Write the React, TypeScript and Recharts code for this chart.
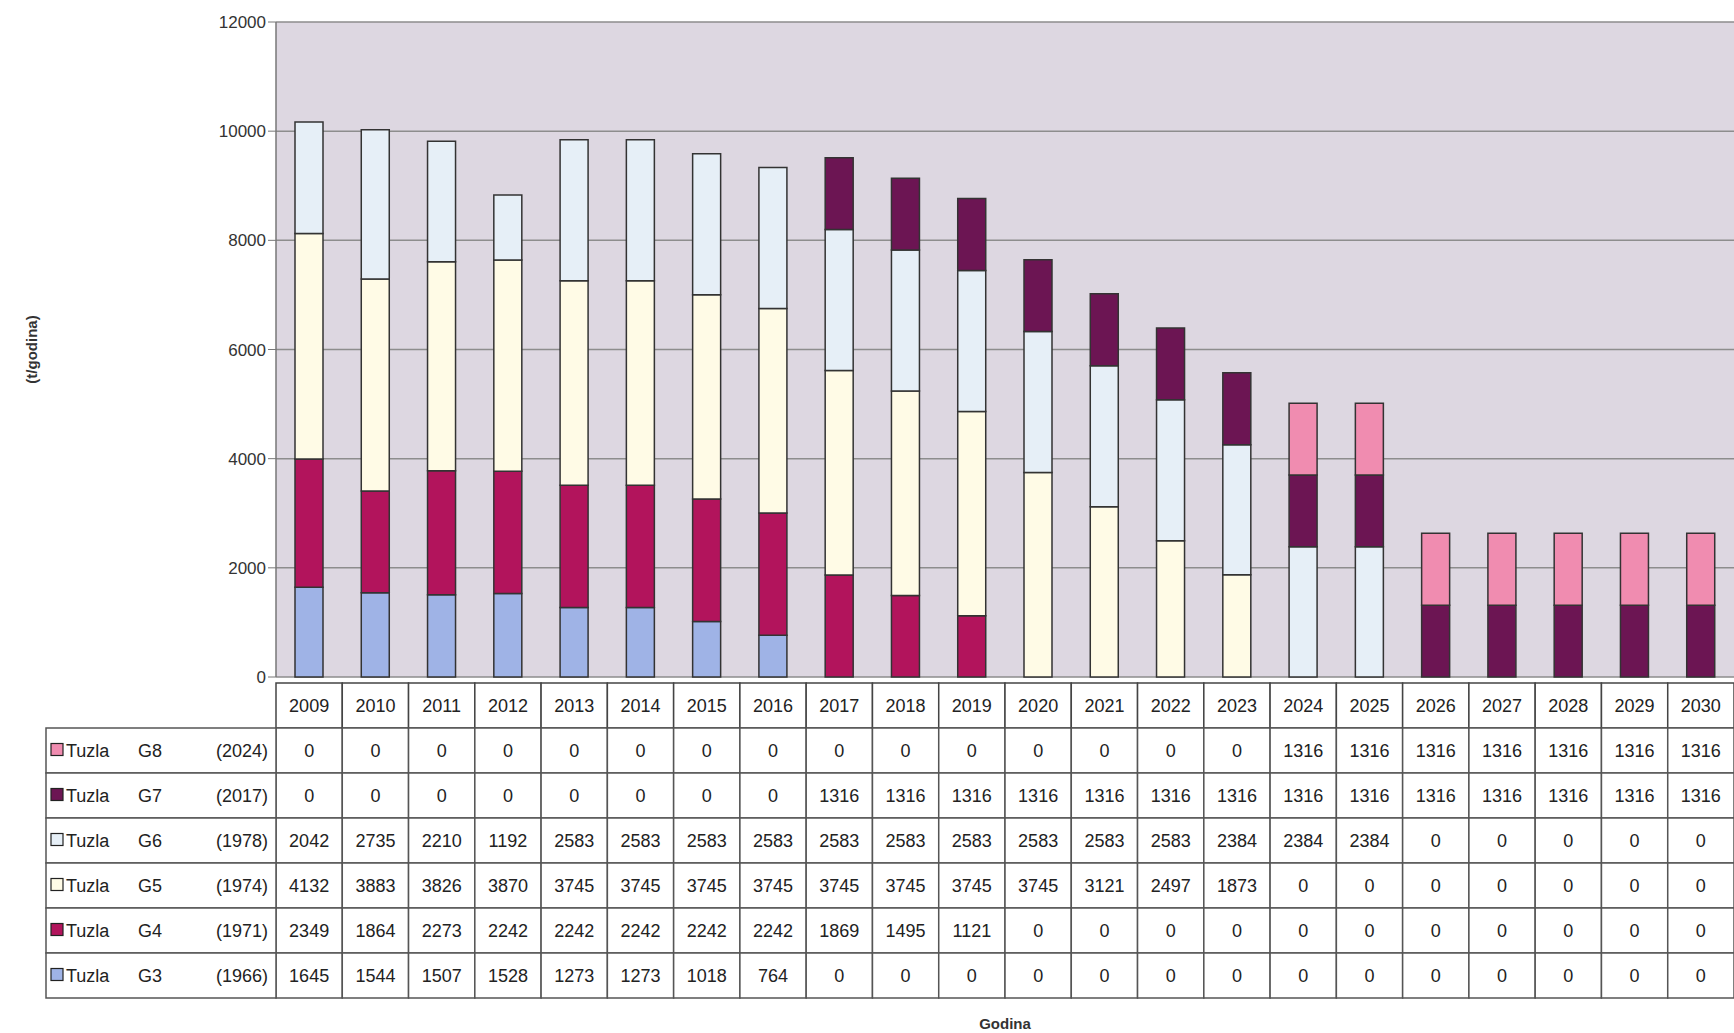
import React from 'react';
import { BarChart, Bar, XAxis, YAxis, CartesianGrid } from 'recharts';

const years = [
  '2009', '2010', '2011', '2012', '2013', '2014', '2015', '2016', '2017', '2018', '2019',
  '2020', '2021', '2022', '2023', '2024', '2025', '2026', '2027', '2028', '2029', '2030',
];

const g8 = [0, 0, 0, 0, 0, 0, 0, 0, 0, 0, 0, 0, 0, 0, 0, 1316, 1316, 1316, 1316, 1316, 1316, 1316];
const g7 = [0, 0, 0, 0, 0, 0, 0, 0, 1316, 1316, 1316, 1316, 1316, 1316, 1316, 1316, 1316, 1316, 1316, 1316, 1316, 1316];
const g6 = [2042, 2735, 2210, 1192, 2583, 2583, 2583, 2583, 2583, 2583, 2583, 2583, 2583, 2583, 2384, 2384, 2384, 0, 0, 0, 0, 0];
const g5 = [4132, 3883, 3826, 3870, 3745, 3745, 3745, 3745, 3745, 3745, 3745, 3745, 3121, 2497, 1873, 0, 0, 0, 0, 0, 0, 0];
const g4 = [2349, 1864, 2273, 2242, 2242, 2242, 2242, 2242, 1869, 1495, 1121, 0, 0, 0, 0, 0, 0, 0, 0, 0, 0, 0];
const g3 = [1645, 1544, 1507, 1528, 1273, 1273, 1018, 764, 0, 0, 0, 0, 0, 0, 0, 0, 0, 0, 0, 0, 0, 0];

const yTicks = [0, 2000, 4000, 6000, 8000, 10000, 12000];

// table rows, top to bottom as in the original
const rows = [
  { key: 'g8', unit: 'G8', since: '(2024)', values: g8, color: '#f08cb0' },
  { key: 'g7', unit: 'G7', since: '(2017)', values: g7, color: '#6c1553' },
  { key: 'g6', unit: 'G6', since: '(1978)', values: g6, color: '#e6eff7' },
  { key: 'g5', unit: 'G5', since: '(1974)', values: g5, color: '#fffbe6' },
  { key: 'g4', unit: 'G4', since: '(1971)', values: g4, color: '#b2145c' },
  { key: 'g3', unit: 'G3', since: '(1966)', values: g3, color: '#9fb3e6' },
];

const data = years.map((year, i) => ({
  year,
  g3: g3[i],
  g4: g4[i],
  g5: g5[i],
  g6: g6[i],
  g7: g7[i],
  g8: g8[i],
}));

const W = 1734;
const H = 1033;
const AXIS_W = 276;
const TABLE_H = 356;
const COL_W = (W - AXIS_W) / years.length;
const HEAD_H = 45;
const ROW_H = 45;
const LABEL_X = 46;
const FONT = "'Liberation Sans Narrow', 'Liberation Sans', Arial, sans-serif";

const TableColumn = (props: any) => {
  const { x, y, payload } = props;
  const i = years.indexOf(payload.value);
  const left = x - COL_W / 2;
  const top = y + 6;
  return (
    <g fontFamily={FONT} fontSize={18} fill="#222">
      <rect x={left} y={top} width={COL_W} height={HEAD_H} fill="#fff" stroke="#444" strokeWidth={1.5} />
      <text x={x} y={top + HEAD_H / 2 + 6} textAnchor="middle">{payload.value}</text>
      {rows.map((r, k) => {
        const ry = top + HEAD_H + k * ROW_H;
        return (
          <g key={r.key}>
            <rect x={left} y={ry} width={COL_W} height={ROW_H} fill="#fff" stroke="#555" strokeWidth={1.5} />
            <text x={x} y={ry + ROW_H / 2 + 6} textAnchor="middle">{r.values[i]}</text>
          </g>
        );
      })}
      {i === 0 &&
        rows.map((r, k) => {
          const ry = top + HEAD_H + k * ROW_H;
          return (
            <g key={'l' + r.key}>
              <rect x={LABEL_X} y={ry} width={left - LABEL_X} height={ROW_H} fill="#fff" stroke="#555" strokeWidth={1.5} />
              <rect x={LABEL_X + 5} y={ry + ROW_H / 2 - 7} width={12} height={12} fill={r.color} stroke="#222" strokeWidth={1.2} />
              <text x={LABEL_X + 20} y={ry + ROW_H / 2 + 6}>Tuzla</text>
              <text x={LABEL_X + 92} y={ry + ROW_H / 2 + 6}>{r.unit}</text>
              <text x={left - 8} y={ry + ROW_H / 2 + 6} textAnchor="end">{r.since}</text>
            </g>
          );
        })}
    </g>
  );
};

export default function App() {
  return (
    <div style={{ position: 'absolute', left: 0, top: 0, width: W, height: H, background: '#fff' }}>
      <BarChart
        width={W}
        height={H}
        data={data}
        margin={{ top: 22, right: 0, left: 0, bottom: 0 }}
        barSize={28}
      >
        <CartesianGrid vertical={false} stroke="#8d8d8d" strokeWidth={1.5} fill="#ddd7e1" fillOpacity={1} />
        <XAxis
          dataKey="year"
          interval={0}
          height={TABLE_H}
          tickLine={false}
          axisLine={false}
          tickSize={0}
          tickMargin={0}
          tick={<TableColumn />}
          label={{
            value: 'Godina',
            position: 'insideBottom',
            offset: 4,
            style: { fontFamily: 'Liberation Sans, Arial', fontSize: 15, fontWeight: 'bold', fill: '#333' },
          }}
        />
        <YAxis
          width={AXIS_W}
          domain={[0, 12000]}
          ticks={yTicks}
          interval={0}
          tickSize={8}
          tickLine={{ stroke: '#777' }}
          axisLine={{ stroke: '#777', strokeWidth: 1.5 }}
          tick={{ fontFamily: FONT, fontSize: 17, fill: '#333' }}
          label={{
            value: '(t/godina)',
            angle: -90,
            position: 'insideLeft',
            offset: 32,
            style: { fontFamily: 'Liberation Sans, Arial', fontSize: 15, fontWeight: 'bold', fill: '#333', textAnchor: 'middle' },
          }}
        />
        <Bar dataKey="g3" stackId="a" fill="#9fb3e6" stroke="#333" strokeWidth={1.5} isAnimationActive={false} />
        <Bar dataKey="g4" stackId="a" fill="#b2145c" stroke="#333" strokeWidth={1.5} isAnimationActive={false} />
        <Bar dataKey="g5" stackId="a" fill="#fffbe6" stroke="#333" strokeWidth={1.5} isAnimationActive={false} />
        <Bar dataKey="g6" stackId="a" fill="#e6eff7" stroke="#333" strokeWidth={1.5} isAnimationActive={false} />
        <Bar dataKey="g7" stackId="a" fill="#6c1553" stroke="#333" strokeWidth={1.5} isAnimationActive={false} />
        <Bar dataKey="g8" stackId="a" fill="#f08cb0" stroke="#333" strokeWidth={1.5} isAnimationActive={false} />
      </BarChart>
    </div>
  );
}
